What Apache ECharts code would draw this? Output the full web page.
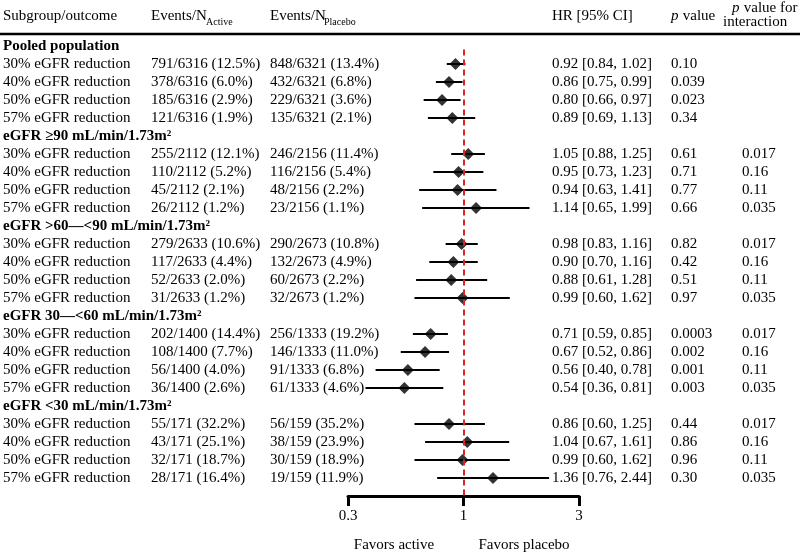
<!DOCTYPE html>
<html>
<head>
<meta charset="utf-8">
<script src="https://cdn.jsdelivr.net/npm/echarts@6/dist/echarts.min.js"></script>
<style>
html,body{margin:0;padding:0;background:#fff;}
#main{width:800px;height:553px;}
</style>
</head>
<body>
<div id="main"></div>
<script>
// ---------- data ----------
const groups = ['Pooled population', 'eGFR \u226590 mL/min/1.73m\u00b2', 'eGFR >60\u2014<90 mL/min/1.73m\u00b2', 'eGFR 30\u2014<60 mL/min/1.73m\u00b2', 'eGFR <30 mL/min/1.73m\u00b2'];
const outcomes = ['30% eGFR reduction', '40% eGFR reduction', '50% eGFR reduction', '57% eGFR reduction'];
const eventsActive = [
  '791/6316 (12.5%)', '378/6316 (6.0%)', '185/6316 (2.9%)', '121/6316 (1.9%)',
  '255/2112 (12.1%)', '110/2112 (5.2%)', '45/2112 (2.1%)', '26/2112 (1.2%)',
  '279/2633 (10.6%)', '117/2633 (4.4%)', '52/2633 (2.0%)', '31/2633 (1.2%)',
  '202/1400 (14.4%)', '108/1400 (7.7%)', '56/1400 (4.0%)', '36/1400 (2.6%)',
  '55/171 (32.2%)', '43/171 (25.1%)', '32/171 (18.7%)', '28/171 (16.4%)'
];
const eventsPlacebo = [
  '848/6321 (13.4%)', '432/6321 (6.8%)', '229/6321 (3.6%)', '135/6321 (2.1%)',
  '246/2156 (11.4%)', '116/2156 (5.4%)', '48/2156 (2.2%)', '23/2156 (1.1%)',
  '290/2673 (10.8%)', '132/2673 (4.9%)', '60/2673 (2.2%)', '32/2673 (1.2%)',
  '256/1333 (19.2%)', '146/1333 (11.0%)', '91/1333 (6.8%)', '61/1333 (4.6%)',
  '56/159 (35.2%)', '38/159 (23.9%)', '30/159 (18.9%)', '19/159 (11.9%)'
];
const hr  = [0.92, 0.86, 0.80, 0.89, 1.05, 0.95, 0.94, 1.14, 0.98, 0.90, 0.88, 0.99, 0.71, 0.67, 0.56, 0.54, 0.86, 1.04, 0.99, 1.36];
const lo  = [0.84, 0.75, 0.66, 0.69, 0.88, 0.73, 0.63, 0.65, 0.83, 0.70, 0.61, 0.60, 0.59, 0.52, 0.40, 0.36, 0.60, 0.67, 0.60, 0.76];
const hi  = [1.02, 0.99, 0.97, 1.13, 1.25, 1.23, 1.41, 1.99, 1.16, 1.16, 1.28, 1.62, 0.85, 0.86, 0.78, 0.81, 1.25, 1.61, 1.62, 2.44];
const pValue = ['0.10', '0.039', '0.023', '0.34', '0.61', '0.71', '0.77', '0.66', '0.82', '0.42', '0.51', '0.97', '0.0003', '0.002', '0.001', '0.003', '0.44', '0.86', '0.96', '0.30'];
const pInteraction = ['', '', '', '', '0.017', '0.16', '0.11', '0.035', '0.017', '0.16', '0.11', '0.035', '0.017', '0.16', '0.11', '0.035', '0.017', '0.16', '0.11', '0.035'];
const tickValues = [0.3, 1, 10 / 3];
const tickLabels = ['0.3', '1', '3'];

// ---------- layout ----------
const FONT = '"Liberation Serif", "Times New Roman", serif';
const FS = 15;
const COL = { sub: 3, act: 151, pla: 270, hr: 552, p: 671, pi: 742 };

const rows = [];
groups.forEach((g, gi) => {
  rows.push({ header: true, text: g, idx: gi * 5 });
  outcomes.forEach((o, k) => {
    rows.push({ header: false, text: o, idx: gi * 5 + k + 1, i: gi * 4 + k });
  });
});
const dataRows = rows.filter(r => !r.header);

function txt(x, y, s, opt) {
  opt = opt || {};
  return {
    type: 'text', x: x, y: y,
    style: Object.assign({
      text: s, fill: '#000', fontSize: FS, fontFamily: FONT,
      align: 'left', verticalAlign: 'middle', textAlign: 'left', textVerticalAlign: 'middle'
    }, opt)
  };
}

const chart = echarts.init(document.getElementById('main'), null, { renderer: 'canvas' });

const option = {
  backgroundColor: '#fff',
  animation: false,
  grid: { left: 348, right: 221, top: 37, bottom: 57 },
  xAxis: {
    type: 'log', logBase: 10, min: 0.3, max: 10 / 3,
    position: 'bottom',
    splitLine: { show: false },
    minorTick: { show: false },
    axisLine: { show: true, onZero: false, lineStyle: { color: '#000', width: 3 } },
    axisTick: { show: true, customValues: tickValues, length: 10, lineStyle: { color: '#000', width: 3 } },
    axisLabel: {
      customValues: tickValues, color: '#000', fontSize: FS, fontFamily: FONT, margin: 13,
      formatter: function (v) {
        let best = 0;
        tickValues.forEach((t, i) => { if (Math.abs(Math.log(t) - Math.log(v)) < Math.abs(Math.log(tickValues[best]) - Math.log(v))) best = i; });
        return tickLabels[best];
      }
    }
  },
  yAxis: { type: 'value', inverse: true, min: -0.5, max: 25, show: false },
  graphic: [
    { type: 'line', shape: { x1: 0, y1: 34, x2: 800, y2: 34 }, style: { stroke: '#000', lineWidth: 2.5 } },
    txt(COL.sub, 16, 'Subgroup/outcome'),
    txt(COL.act, 16, 'Events/N'),
    txt(COL.act + 55, 22, 'Active', { fontSize: 10 }),
    txt(COL.pla, 16, 'Events/N'),
    txt(COL.pla + 54, 22, 'Placebo', { fontSize: 10 }),
    txt(COL.hr, 16, 'HR [95% CI]'),
    txt(671, 16, 'p', { fontStyle: 'italic' }),
    txt(671 + 8, 16, ' value'),
    txt(732, 8, 'p', { fontStyle: 'italic' }),
    txt(732 + 8, 8, ' value for'),
    txt(723, 22, 'interaction'),
    txt(394, 545, 'Favors active', { align: 'center', textAlign: 'center' }),
    txt(524, 545, 'Favors placebo', { align: 'center', textAlign: 'center' })
  ],
  series: [
    {
      // reference line at HR = 1
      type: 'custom', name: 'ref', z: 1, silent: true, clip: false,
      data: [[1, 0]],
      renderItem: function () { return { type: 'group', children: [] }; },
      markLine: {
        silent: true, symbol: ['none', 'none'], label: { show: false },
        lineStyle: { color: '#d62728', width: 2, type: [6, 4] },
        data: [[{ coord: [1, 0.2] }, { coord: [1, 25] }]]
      }
    },
    {
      // confidence intervals
      type: 'custom', name: 'ci', z: 2, silent: true, clip: false,
      data: dataRows.map(r => [lo[r.i], hi[r.i], r.idx]),
      renderItem: function (params, api) {
        const a = api.coord([api.value(0), api.value(2)]);
        const b = api.coord([api.value(1), api.value(2)]);
        return { type: 'line', shape: { x1: a[0], y1: a[1], x2: b[0], y2: b[1] }, style: { stroke: '#000', lineWidth: 2 } };
      }
    },
    {
      type: 'scatter', name: 'hr', z: 3, silent: true,
      symbol: 'diamond', symbolSize: [12, 12],
      itemStyle: { color: '#000' },
      data: dataRows.map(r => [hr[r.i], r.idx])
    },
    {
      // table text
      type: 'custom', name: 'table', z: 4, silent: true, clip: false,
      data: rows.map(r => [1, r.idx]),
      renderItem: function (params, api) {
        const r = rows[params.dataIndex];
        const y = api.coord([1, api.value(1)])[1];
        if (r.header) {
          return { type: 'group', children: [txt(COL.sub, y, r.text, { fontWeight: 'bold' })] };
        }
        const i = r.i;
        const hrTxt = hr[i].toFixed(2) + ' [' + lo[i].toFixed(2) + ', ' + hi[i].toFixed(2) + ']';
        return {
          type: 'group', children: [
            txt(COL.sub, y, r.text),
            txt(COL.act, y, eventsActive[i]),
            txt(COL.pla, y, eventsPlacebo[i]),
            txt(COL.hr, y, hrTxt),
            txt(COL.p, y, pValue[i]),
            txt(COL.pi, y, pInteraction[i])
          ]
        };
      }
    }
  ]
};
chart.setOption(option);
</script>
</body>
</html>
